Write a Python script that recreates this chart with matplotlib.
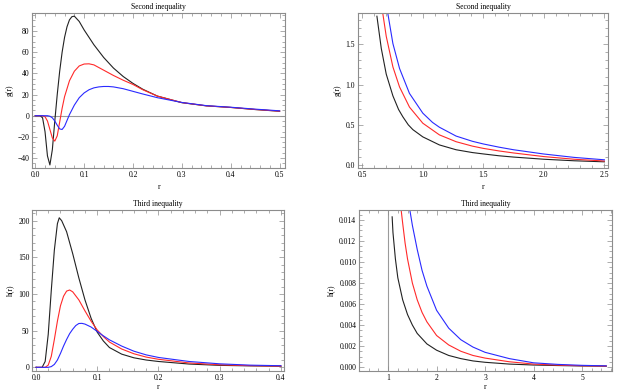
import matplotlib
matplotlib.use("Agg")
import matplotlib.pyplot as plt
from matplotlib.ticker import MultipleLocator, FormatStrFormatter

plt.rcParams['font.family'] = ['Liberation Serif', 'DejaVu Serif']

# ---- Panel 1: Second inequality (small r) ----
g1_x_black = [0, 0.01, 0.015, 0.02, 0.025, 0.03, 0.035, 0.04, 0.045, 0.05, 0.055, 0.06, 0.065,
              0.07, 0.075, 0.08, 0.09, 0.1, 0.12, 0.14, 0.16, 0.18, 0.2, 0.22, 0.25, 0.3, 0.35,
              0.4, 0.45, 0.5]
g1_y_black = [0, 0, -2, -15, -38, -46.5, -32, -5, 20, 42, 60, 74, 84,
              90.5, 93.5, 94, 89, 81, 67, 55, 45, 37, 30.5, 25, 18.5, 12.3, 9.3,
              7.8, 5.8, 4.2]
g1_x_red = [0, 0.015, 0.02, 0.025, 0.03, 0.035, 0.04, 0.045, 0.05, 0.055, 0.06, 0.07, 0.08,
            0.09, 0.1, 0.11, 0.12, 0.14, 0.16, 0.18, 0.2, 0.22, 0.25, 0.3, 0.35, 0.4, 0.45, 0.5]
g1_y_red = [0, 0, -1, -5, -13, -21, -24, -19, -6, 7, 18, 33, 42,
            47, 48.8, 49, 48, 43, 38, 33.5, 29.5, 24.5, 18.5, 12.4, 9.3, 7.8, 5.9, 4.3]
g1_x_blue = [0, 0.025, 0.03, 0.035, 0.04, 0.045, 0.05, 0.055, 0.06, 0.065, 0.07, 0.08, 0.09,
             0.1, 0.11, 0.12, 0.13, 0.14, 0.15, 0.16, 0.18, 0.2, 0.22, 0.25, 0.3, 0.35, 0.4,
             0.45, 0.5]
g1_y_blue = [0, 0, -0.5, -2, -5, -9, -12.5, -13, -10, -4.5, 1, 10, 17,
             21.5, 24.5, 26.3, 27.2, 27.6, 27.6, 27.2, 25.5, 23, 20.5, 17, 12.5, 9.5, 8,
             6.2, 4.6]

# ---- Panel 2: Second inequality (large r) ----
g2_x_black = [0.621, 0.657, 0.698, 0.753, 0.8, 0.835, 0.88, 0.918, 1.0, 1.137, 1.275, 1.41, 1.5,
              1.63, 1.75, 2.0, 2.25, 2.5]
g2_y_black = [1.85, 1.45, 1.13, 0.86, 0.69, 0.6, 0.5, 0.44, 0.35, 0.25, 0.19, 0.155, 0.138,
              0.115, 0.099, 0.072, 0.053, 0.04]
g2_x_red = [0.665, 0.698, 0.753, 0.808, 0.89, 1.0, 1.137, 1.275, 1.41, 1.5, 1.63, 1.75, 2.0, 2.25, 2.5]
g2_y_red = [1.93, 1.6, 1.22, 0.97, 0.72, 0.52, 0.375, 0.29, 0.235, 0.207, 0.175, 0.15, 0.105, 0.072, 0.05]
g2_x_blue = [0.706, 0.753, 0.808, 0.89, 1.0, 1.08, 1.137, 1.275, 1.41, 1.5, 1.63, 1.75, 2.0, 2.25, 2.5]
g2_y_blue = [1.93, 1.51, 1.2, 0.89, 0.645, 0.53, 0.47, 0.36, 0.295, 0.262, 0.222, 0.19, 0.137, 0.095, 0.065]

# ---- Panel 3: Third inequality (small r) ----
h1_x_black = [0, 0.01, 0.015, 0.02, 0.025, 0.03, 0.035, 0.038, 0.042, 0.05, 0.06, 0.07, 0.08, 0.09,
              0.1, 0.11, 0.12, 0.14, 0.16, 0.18, 0.2, 0.25, 0.3, 0.35, 0.4]
h1_y_black = [0, 0, 8, 45, 105, 160, 196, 204, 200, 185, 155, 122, 92, 67,
              48, 36, 27, 18, 13, 10, 8, 4.5, 2.7, 2, 1.5]
h1_x_red = [0, 0.015, 0.02, 0.025, 0.03, 0.035, 0.04, 0.045, 0.05, 0.055, 0.06, 0.07, 0.08, 0.09,
            0.1, 0.11, 0.12, 0.14, 0.16, 0.18, 0.2, 0.25, 0.3, 0.35, 0.4]
h1_y_red = [0, 0, 3, 15, 38, 63, 84, 97, 104, 105.5, 103, 92, 77, 63,
            51, 42, 34.5, 25, 18.5, 14, 11, 6, 3.5, 2.3, 1.7]
h1_x_blue = [0, 0.02, 0.025, 0.03, 0.035, 0.04, 0.045, 0.05, 0.055, 0.06, 0.065, 0.07, 0.075, 0.08,
             0.09, 0.1, 0.11, 0.12, 0.14, 0.16, 0.18, 0.2, 0.25, 0.3, 0.35, 0.4]
h1_y_blue = [0, 0, 1, 4, 10, 19, 29, 38, 46, 52, 57, 59.8, 60, 59,
             55, 49, 43, 37.5, 29, 22, 17, 13.5, 8, 4.8, 3, 2.2]

# ---- Panel 4: Third inequality (large r) ----
h2_x_black = [1.083, 1.1, 1.15, 1.2, 1.3, 1.4, 1.5, 1.6, 1.8, 2.0, 2.25, 2.5, 2.75, 3.0, 3.5, 4.0, 4.5, 5.0, 5.5]
h2_y_black = [0.0143, 0.0128, 0.0103, 0.0085, 0.0064, 0.0050, 0.0040, 0.0032, 0.0022, 0.0016, 0.0011,
              0.0008, 0.00058, 0.00045, 0.00028, 0.00019, 0.00014, 0.0001, 0.00008]
h2_x_red = [1.27, 1.3, 1.35, 1.4, 1.5, 1.6, 1.7, 1.8, 2.0, 2.25, 2.5, 2.75, 3.0, 3.5, 4.0, 4.5, 5.0, 5.5]
h2_y_red = [0.0149, 0.0137, 0.0118, 0.0103, 0.0080, 0.0064, 0.0052, 0.0043, 0.0030, 0.0021, 0.0015,
            0.0011, 0.00085, 0.0005, 0.00028, 0.00018, 0.00012, 0.00009]
h2_x_blue = [1.45, 1.5, 1.6, 1.7, 1.8, 2.0, 2.25, 2.5, 2.75, 3.0, 3.5, 4.0, 4.5, 5.0, 5.5]
h2_y_blue = [0.0149, 0.0135, 0.0112, 0.0092, 0.0077, 0.0054, 0.0037, 0.0026, 0.0019, 0.0014, 0.0008,
             0.0004, 0.00025, 0.00016, 0.00011]

titles = ["Second inequality", "Second inequality", "Third inequality", "Third inequality"]
ylabels = ["g(r)", "g(r)", "h(r)", "h(r)"]
xlabel = "r"

FRAME = "#8c8c8c"
LW = 0.8
FS = 5.5

fig = plt.figure(figsize=(6.31, 3.90), dpi=100)
boxes = [
    [0.0512, 0.5692, 0.4005, 0.3975],
    [0.5674, 0.5692, 0.3962, 0.3975],
    [0.0512, 0.0487, 0.3988, 0.4128],
    [0.5690, 0.0487, 0.4010, 0.4128],
]
axes = [fig.add_axes(b) for b in boxes]

def style(ax, xmaj, xmin, ymaj, ymin):
    for s in ax.spines.values():
        s.set_color(FRAME)
        s.set_linewidth(0.8)
    ax.xaxis.set_major_locator(MultipleLocator(xmaj))
    ax.xaxis.set_minor_locator(MultipleLocator(xmin))
    ax.yaxis.set_major_locator(MultipleLocator(ymaj))
    ax.yaxis.set_minor_locator(MultipleLocator(ymin))
    ax.tick_params(which='both', direction='in', top=True, right=True, color=FRAME,
                   labelsize=FS, width=0.5, pad=2)
    ax.tick_params(which='major', length=3.5)
    ax.tick_params(which='minor', length=2)

series = [
    [(g1_x_black, g1_y_black), (g1_x_red, g1_y_red), (g1_x_blue, g1_y_blue)],
    [(g2_x_black, g2_y_black), (g2_x_red, g2_y_red), (g2_x_blue, g2_y_blue)],
    [(h1_x_black, h1_y_black), (h1_x_red, h1_y_red), (h1_x_blue, h1_y_blue)],
    [(h2_x_black, h2_y_black), (h2_x_red, h2_y_red), (h2_x_blue, h2_y_blue)],
]
colors = ["#222222", "#ff2a2a", "#2a2aff"]

for i, (ax, ser, t, yl) in enumerate(zip(axes, series, titles, ylabels)):
    for (x, y), c in zip(ser, colors):
        ax.plot(x, y, color=c, lw=LW)
    ax.set_title(t, fontsize=FS, pad=3)
    ax.set_ylabel(yl, fontsize=FS, labelpad=3)
    ax.set_xlabel(xlabel, fontsize=FS, labelpad=3 if i < 2 else 1)

# axis lines (Mathematica-style)
axes[0].axhline(0, color="#9a9a9a", lw=0.8, zorder=0)
axes[3].axvline(1, color="#9a9a9a", lw=0.8, zorder=0)

axes[0].set_xlim(-0.006, 0.511); axes[0].set_ylim(-49.4, 97)
style(axes[0], 0.1, 0.02, 20, 5)
axes[0].xaxis.set_major_formatter(FormatStrFormatter('%.1f'))

axes[1].set_xlim(0.465, 2.53); axes[1].set_ylim(-0.037, 1.89)
style(axes[1], 0.5, 0.1, 0.5, 0.1)
axes[1].xaxis.set_major_formatter(FormatStrFormatter('%.1f'))
axes[1].yaxis.set_major_formatter(FormatStrFormatter('%.1f'))

axes[2].set_xlim(-0.006, 0.405); axes[2].set_ylim(-5, 214.6)
style(axes[2], 0.1, 0.02, 50, 10)
axes[2].xaxis.set_major_formatter(FormatStrFormatter('%.1f'))

axes[3].set_xlim(0.4, 5.62); axes[3].set_ylim(-0.00038, 0.01495)
style(axes[3], 1, 0.2, 0.002, 0.0005)
axes[3].yaxis.set_major_formatter(FormatStrFormatter('%.3f'))

fig.savefig("out.png", dpi=100)
